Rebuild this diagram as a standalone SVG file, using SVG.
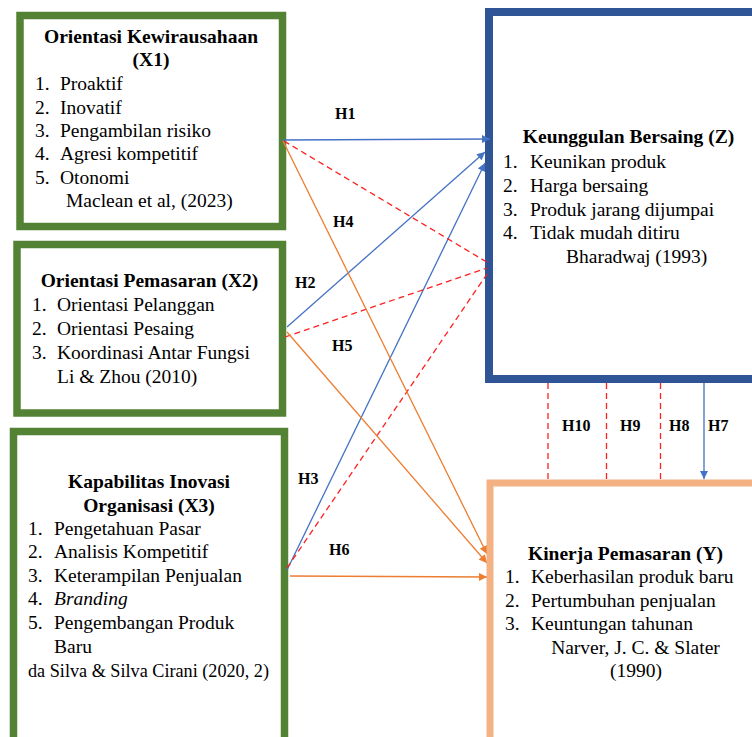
<svg xmlns="http://www.w3.org/2000/svg" width="752" height="737" viewBox="0 0 752 737">
<style>
.bg{fill:#fff;stroke:#548235;stroke-width:7.5}
.bb{fill:#fff;stroke:#2F5597;stroke-width:8}
.bo{fill:#fff;stroke:#F4B183;stroke-width:7}
.t{font-family:"Liberation Serif","Times New Roman",serif;font-size:19.5px;fill:#000}
.b{font-weight:bold}
.m{text-anchor:middle}
.h{font-family:"Liberation Serif","Times New Roman",serif;font-size:16px;font-weight:bold;fill:#000}
.lb{stroke:#4472C4;stroke-width:1.3;fill:none}
.lo{stroke:#ED7D31;stroke-width:1.3;fill:none}
.lr{stroke:#FF2020;stroke-width:1.3;fill:none;stroke-dasharray:6 4}
</style>
<defs>
<marker id="ab" viewBox="0 0 10 10" refX="10" refY="5" markerWidth="9" markerHeight="8" markerUnits="userSpaceOnUse" orient="auto"><path d="M0,0L10,5L0,10z" fill="#4472C4"/></marker>
<marker id="ao" viewBox="0 0 10 10" refX="10" refY="5" markerWidth="9" markerHeight="8" markerUnits="userSpaceOnUse" orient="auto"><path d="M0,0L10,5L0,10z" fill="#ED7D31"/></marker>
</defs>
<rect width="752" height="737" fill="#fff"/>
<g id="x1">
<rect class="bg" x="20" y="15.5" width="262.5" height="211"/>
<text class="t b m" x="151" y="43">Orientasi Kewirausahaan</text>
<text class="t b m" x="151" y="66">(X1)</text>
<text class="t" x="35" y="90">1.</text><text class="t" x="60" y="90">Proaktif</text>
<text class="t" x="35" y="113.5">2.</text><text class="t" x="60" y="113.5">Inovatif</text>
<text class="t" x="35" y="137">3.</text><text class="t" x="60" y="137">Pengambilan risiko</text>
<text class="t" x="35" y="160">4.</text><text class="t" x="60" y="160">Agresi kompetitif</text>
<text class="t" x="35" y="183.5">5.</text><text class="t" x="60" y="183.5">Otonomi</text>
<text class="t" x="66" y="207">Maclean et al, (2023)</text>
</g>
<g id="x2">
<rect class="bg" x="17" y="244.5" width="265.5" height="168.5"/>
<text class="t b m" x="149.5" y="287">Orientasi Pemasaran (X2)</text>
<text class="t" x="32" y="311">1.</text><text class="t" x="57" y="311">Orientasi Pelanggan</text>
<text class="t" x="32" y="335">2.</text><text class="t" x="57" y="335">Orientasi Pesaing</text>
<text class="t" x="32" y="359">3.</text><text class="t" x="57" y="359">Koordinasi Antar Fungsi</text>
<text class="t" x="57" y="383">Li &amp; Zhou (2010)</text>
</g>
<g id="x3">
<rect class="bg" x="13.5" y="431.5" width="271" height="330"/>
<text class="t b m" x="149" y="488">Kapabilitas Inovasi</text>
<text class="t b m" x="149" y="512">Organisasi (X3)</text>
<text class="t" x="28" y="535">1.</text><text class="t" x="54" y="535">Pengetahuan Pasar</text>
<text class="t" x="28" y="558">2.</text><text class="t" x="54" y="558">Analisis Kompetitif</text>
<text class="t" x="28" y="582">3.</text><text class="t" x="54" y="582">Keterampilan Penjualan</text>
<text class="t" x="28" y="605">4.</text><text class="t" x="54" y="605" font-style="italic">Branding</text>
<text class="t" x="28" y="629">5.</text><text class="t" x="54" y="629">Pengembangan Produk</text>
<text class="t" x="54" y="653">Baru</text>
<text class="t" x="28" y="677" style="font-size:18.2px">da Silva &amp; Silva Cirani (2020, 2)</text>
</g>
<g id="z">
<rect class="bb" x="489" y="12" width="300" height="367"/>
<text class="t b m" x="628.5" y="143">Keunggulan Bersaing (Z)</text>
<text class="t" x="503" y="168">1.</text><text class="t" x="530" y="168">Keunikan produk</text>
<text class="t" x="503" y="192">2.</text><text class="t" x="530" y="192">Harga bersaing</text>
<text class="t" x="503" y="216">3.</text><text class="t" x="530" y="216">Produk jarang dijumpai</text>
<text class="t" x="503" y="239">4.</text><text class="t" x="530" y="239">Tidak mudah ditiru</text>
<text class="t" x="566" y="263">Bharadwaj (1993)</text>
</g>
<g id="connectors">
<line class="lr" x1="548" y1="383" x2="548" y2="479"/>
<line class="lr" x1="606.5" y1="383" x2="606.5" y2="479"/>
<line class="lr" x1="660.5" y1="383" x2="660.5" y2="479"/>
<line class="lb" x1="704" y1="383" x2="704" y2="479" marker-end="url(#ab)"/>
<line class="lb" x1="283" y1="140" x2="490" y2="139" marker-end="url(#ab)"/>
<line class="lb" x1="287" y1="327" x2="485" y2="152" marker-end="url(#ab)"/>
<line class="lb" x1="287" y1="570" x2="485" y2="163" marker-end="url(#ab)"/>
<line class="lr" x1="284" y1="141" x2="490" y2="264"/>
<line class="lr" x1="285" y1="337" x2="487" y2="268"/>
<line class="lr" x1="287" y1="568" x2="487" y2="274"/>
<line class="lo" x1="283" y1="141" x2="487" y2="554" marker-end="url(#ao)"/>
<line class="lo" x1="287" y1="332" x2="487" y2="563" marker-end="url(#ao)"/>
<line class="lo" x1="290" y1="576" x2="487" y2="577" marker-end="url(#ao)"/>
<text class="h" x="335" y="119">H1</text>
<text class="h" x="333" y="227">H4</text>
<text class="h" x="295" y="288">H2</text>
<text class="h" x="332" y="351">H5</text>
<text class="h" x="298" y="484">H3</text>
<text class="h" x="329" y="555">H6</text>
<text class="h" x="562" y="431">H10</text>
<text class="h" x="620" y="431">H9</text>
<text class="h" x="669" y="431">H8</text>
<text class="h" x="708" y="431">H7</text>
</g>
<g id="y">
<rect class="bo" x="490" y="483" width="300" height="300"/>
<text class="t b m" x="625.5" y="560">Kinerja Pemasaran (Y)</text>
<text class="t" x="505" y="583">1.</text><text class="t" x="531" y="583">Keberhasilan produk baru</text>
<text class="t" x="505" y="607">2.</text><text class="t" x="531" y="607">Pertumbuhan penjualan</text>
<text class="t" x="505" y="630">3.</text><text class="t" x="531" y="630">Keuntungan tahunan</text>
<text class="t m" x="635.5" y="654">Narver, J. C. &amp; Slater</text>
<text class="t m" x="636" y="677">(1990)</text>
</g>
</svg>
